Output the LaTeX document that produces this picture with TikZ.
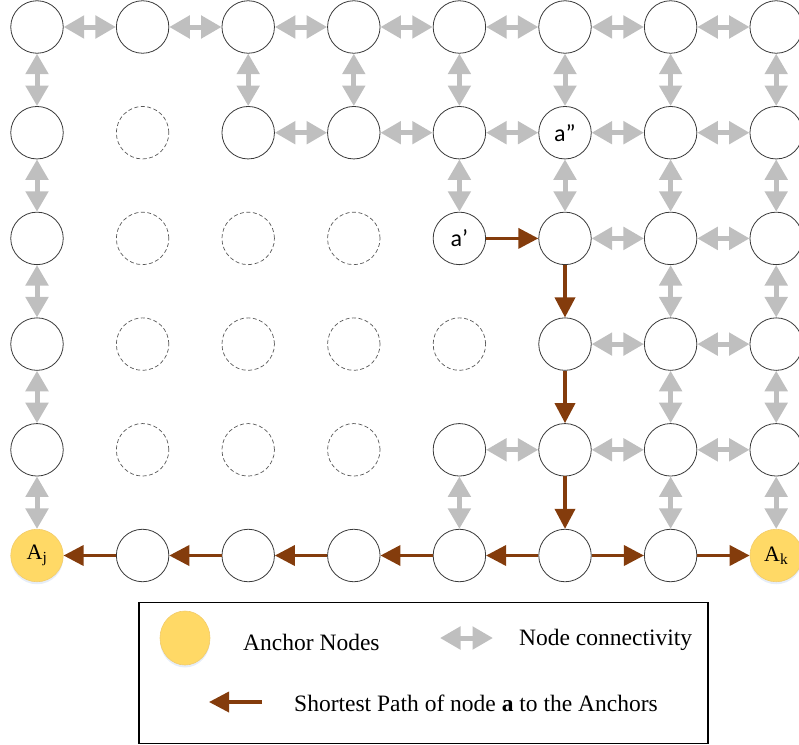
\documentclass[tikz,border=0pt]{standalone}
\usepackage{fontspec}
\setmainfont{Liberation Serif}
\newfontfamily\calfont{Carlito}
\usetikzlibrary{arrows.meta,shapes.geometric}
\definecolor{conncol}{HTML}{BFBFBF}
\definecolor{pathcol}{HTML}{843C0C}
\definecolor{anchorfill}{HTML}{FFD966}
\definecolor{anchordraw}{HTML}{F2CC6B}
\definecolor{glowcol}{HTML}{DCE6F5}
\definecolor{nodeline}{HTML}{3A3A3A}
\tikzset{
  nd/.style={circle, draw=nodeline, line width=0.8pt, fill=white, minimum size=52.5pt, inner sep=0pt},
  ghost/.style={circle, draw=nodeline!85, line width=0.7pt, dash pattern=on 4pt off 2.5pt, minimum size=52.5pt, inner sep=0pt},
  anch/.style={circle, draw=anchordraw, line width=0.6pt, fill=anchorfill, minimum size=52.5pt, inner sep=0pt,
    preaction={fill=glowcol, opacity=0.7, transform canvas={yshift=-2.5pt}}},
  conn/.style={draw=conncol, line width=5pt, {Triangle[length=20.5pt,width=22pt]}-{Triangle[length=20.5pt,width=22pt]}},
  patharr/.style={draw=pathcol, line width=3.6pt, -{Triangle[length=20pt,width=20pt]}},
  lbl/.style={font=\calfont\fontsize{24}{27}\selectfont},
  albl/.style={font=\fontsize{22}{26}\selectfont},
  legtext/.style={anchor=west, font=\fontsize{23.5}{27}\selectfont, inner sep=0pt}
}
\begin{document}
\begin{tikzpicture}[x=1pt,y=-1pt]
\useasboundingbox (0,0) rectangle (799,744);
% solid nodes
\foreach \c in {0,...,7} \node[nd] (n0\c) at ({37+105.6*\c},{27}) {};
\foreach \c in {0,2,3,4,6,7} \node[nd] (n1\c) at ({37+105.6*\c},{27+105.7}) {};
\node[nd, lbl] (n15) at ({37+105.6*5},{27+105.7}) {a”};
\foreach \c in {0,5,6,7} \node[nd] (n2\c) at ({37+105.6*\c},{27+105.7*2}) {};
\node[nd, lbl] (n24) at ({37+105.6*4},{27+105.7*2}) {a’};
\foreach \c in {0,5,6,7} \node[nd] (n3\c) at ({37+105.6*\c},{27+105.7*3}) {};
\foreach \c in {0,4,5,6,7} \node[nd] (n4\c) at ({37+105.6*\c},{27+105.7*4}) {};
\foreach \c in {1,...,6} \node[nd] (n5\c) at ({37+105.6*\c},{27+105.7*5}) {};
\node[anch, albl] (n50) at ({37},{27+105.7*5}) {A\textsubscript{j}};
\node[anch, albl] (n57) at ({37+105.6*7},{27+105.7*5}) {A\textsubscript{k}};
% absent nodes
\foreach \r/\c in {1/1,2/1,2/2,2/3,3/1,3/2,3/3,3/4,4/1,4/2,4/3}
  \node[ghost] (g\r\c) at ({37+105.6*\c},{27+105.7*\r}) {};
% gray connectivity, horizontal
\foreach \c [evaluate=\c as \d using int(\c+1)] in {0,...,6} \draw[conn] (n0\c) -- (n0\d);
\foreach \c [evaluate=\c as \d using int(\c+1)] in {2,...,6} \draw[conn] (n1\c) -- (n1\d);
\foreach \c [evaluate=\c as \d using int(\c+1)] in {5,6} \draw[conn] (n2\c) -- (n2\d);
\foreach \c [evaluate=\c as \d using int(\c+1)] in {5,6} \draw[conn] (n3\c) -- (n3\d);
\foreach \c [evaluate=\c as \d using int(\c+1)] in {4,5,6} \draw[conn] (n4\c) -- (n4\d);
% gray connectivity, vertical
\foreach \c in {0,2,3,4,5,6,7} \draw[conn] (n0\c) -- (n1\c);
\foreach \c in {0,4,5,6,7} \draw[conn] (n1\c) -- (n2\c);
\foreach \c in {0,6,7} \draw[conn] (n2\c) -- (n3\c);
\foreach \c in {0,6,7} \draw[conn] (n3\c) -- (n4\c);
\foreach \c in {0,4,6,7} \draw[conn] (n4\c) -- (n5\c);
% shortest path
\draw[patharr] (n24) -- (n25);
\draw[patharr] (n25) -- (n35);
\draw[patharr] (n35) -- (n45);
\draw[patharr] (n45) -- (n55);
\draw[patharr] (n55) -- (n54);
\draw[patharr] (n54) -- (n53);
\draw[patharr] (n53) -- (n52);
\draw[patharr] (n52) -- (n51);
\draw[patharr] (n51) -- (n50);
\draw[patharr] (n55) -- (n56);
\draw[patharr] (n56) -- (n57);
% legend
\node[draw=black, line width=1.8pt, minimum width=569pt, minimum height=141pt, anchor=north west, inner sep=0pt] (legend) at (138,601.5) {};
\node[ellipse, draw=anchordraw, line width=0.6pt, fill=anchorfill, minimum width=50pt, minimum height=54pt, inner sep=0pt,
  preaction={fill=glowcol, opacity=0.7, transform canvas={yshift=-2.5pt}}] (legA) at (185,638) {};
\node[legtext] (legAt) at (243,642) {Anchor Nodes};
\coordinate (lc1) at (440,638);
\coordinate (lc2) at (493,638);
\draw[conn] (lc1) -- (lc2);
\node[legtext] (legCt) at (519,640) {Node connectivity};
\coordinate (lp1) at (262,702);
\coordinate (lp2) at (209,702);
\draw[patharr] (lp1) -- (lp2);
\node[legtext] (legPt) at (294,703) {Shortest Path of node \textbf{a} to the Anchors};
\end{tikzpicture}
\end{document}
